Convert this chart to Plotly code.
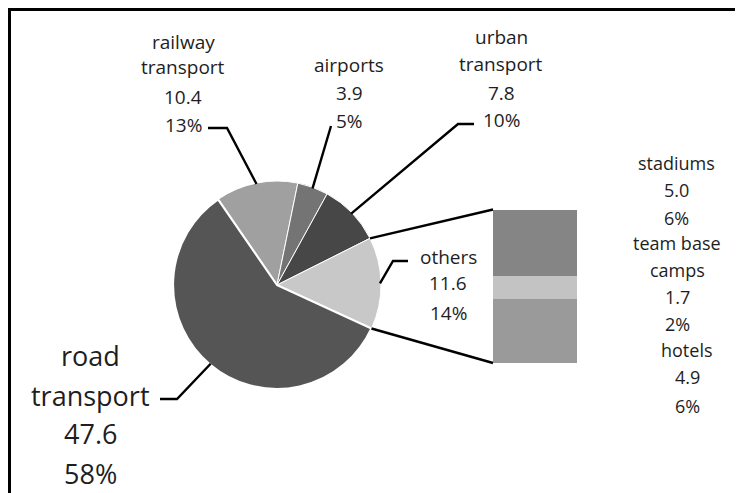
import math
import plotly.graph_objects as go

# ---------------- data ----------------
pie_categories = ["railway\ntransport", "airports", "urban\ntransport", "others", "road\ntransport"]
pie_values = [10.4, 3.9, 7.8, 11.6, 47.6]
pie_percent_labels = ["13%", "5%", "10%", "14%", "58%"]

bar_categories = ["stadiums", "team base\ncamps", "hotels"]
bar_values = [5.0, 1.7, 4.9]
bar_percent_labels = ["6%", "2%", "6%"]

# ---------------- style / layout ----------------
W, H = 743, 493
OFF = 8  # page body margin: figure origin sits at (8, 8) on screen
FONT = "Open Sans"
TXT = "#1e1e1e"
pie_colors = ["#a0a0a0", "#747474", "#474747", "#c8c8c8", "#555555"]
pie_line_w = [1, 1, 1, 1, 2.2]
bar_colors = {"stadiums": "#858585", "team base\ncamps": "#c3c3c3", "hotels": "#9a9a9a"}
ROTATION = -34.5

# pie placement in screen pixels
CX, CY, R = 277, 285, 104
# bar placement in screen pixels
BX0, BX1, BY0, BY1 = 493, 577, 209.5, 363


def px(x):
    return (x - OFF) / W


def py(y):
    return 1 - (y - OFF) / H


fig = go.Figure()

fig.add_trace(go.Pie(
    values=pie_values,
    labels=[c.replace("\n", " ") for c in pie_categories],
    sort=False,
    direction="clockwise",
    rotation=ROTATION,
    textinfo="none",
    hoverinfo="skip",
    showlegend=False,
    marker=dict(colors=pie_colors, line=dict(color="white", width=pie_line_w)),
    domain=dict(x=[px(CX - R), px(CX + R)], y=[py(CY + R), py(CY - R)]),
))

# stacked bar, bottom to top: hotels, camps, stadiums
for name, val in reversed(list(zip(bar_categories, bar_values))):
    fig.add_trace(go.Bar(
        x=[0], y=[val], width=[1],
        marker=dict(color=bar_colors[name], line=dict(width=0)),
        hoverinfo="skip", showlegend=False,
    ))

# angles (degrees clockwise from 12 o'clock) from the data
total = sum(pie_values)
bounds = [ROTATION]
for v in pie_values:
    bounds.append(bounds[-1] + v / total * 360)
mids = [(bounds[i] + bounds[i + 1]) / 2 for i in range(len(pie_values))]


def edge(angle_deg, rr=R):
    a = math.radians(angle_deg)
    return CX + rr * math.sin(a), CY - rr * math.cos(a)


def path(points):
    d = "M " + " L ".join(f"{px(x):.5f},{py(y):.5f}" for x, y in points)
    return dict(type="path", path=d, xref="paper", yref="paper",
                line=dict(color="black", width=2.4))


shapes = []
# leader lines: label anchor points (screen pixels)
leader_starts = {
    0: [(208, 128), (227, 128)],
    1: [(331, 126)],
    2: [(474, 124), (458, 124)],
    3: [(408, 261), (393, 261)],
    4: [(160, 399), (177, 399)],
}
for i, pts in leader_starts.items():
    shapes.append(path(pts + [edge(mids[i], R - 1)]))

# connector lines from "others" slice to the bar
oi = pie_categories.index("others")
shapes.append(path([edge(bounds[oi]), (BX0, BY0)]))
shapes.append(path([edge(bounds[oi + 1]), (BX0, BY1)]))

# outer frame
shapes.append(dict(type="rect", xref="paper", yref="paper",
                   x0=px(9.5), y0=py(530), x1=px(780), y1=py(9.5),
                   line=dict(color="black", width=3)))

# ---------------- labels ----------------
annotations = []


def add_label_lines(lines, x, ys, size):
    for t, y in zip(lines, ys):
        annotations.append(dict(
            text=t, x=px(x), y=py(y), xref="paper", yref="paper",
            xanchor="center", yanchor="middle", showarrow=False,
            font=dict(family=FONT, size=size, color=TXT)))


S, SR, L = 19, 18, 27
pie_label_pos = [
    (183, [42, 67, 97, 125], S),
    (349, [65, 93, 121], S),
    (501, [37, 64, 93, 120], S),
    (448, [257, 283, 313], S),
    (90, [355, 395, 433, 473], L),
]
for cat, val, pct, (x, ys, size) in zip(pie_categories, pie_values, pie_percent_labels, pie_label_pos):
    add_label_lines(cat.split("\n") + [f"{val:.1f}", pct], x, ys, size)

bar_label_pos = [
    (676, [163, 190, 218], SR),
    (677, [243, 270, 297, 324], SR),
    (687, [350, 377, 406], SR),
]
for cat, val, pct, (x, ys, size) in zip(bar_categories, bar_values, bar_percent_labels, bar_label_pos):
    add_label_lines(cat.split("\n") + [f"{val:.1f}", pct], x, ys, size)

fig.update_layout(
    width=W, height=H,
    margin=dict(l=0, r=0, t=0, b=0),
    paper_bgcolor="white", plot_bgcolor="rgba(0,0,0,0)",
    barmode="stack", bargap=0,
    xaxis=dict(domain=[px(BX0), px(BX1)], range=[-0.5, 0.5], visible=False, fixedrange=True),
    yaxis=dict(domain=[py(BY1), py(BY0)], range=[0, sum(bar_values)], visible=False, fixedrange=True),
    shapes=shapes,
    annotations=annotations,
)

fig.write_html("out.html")
